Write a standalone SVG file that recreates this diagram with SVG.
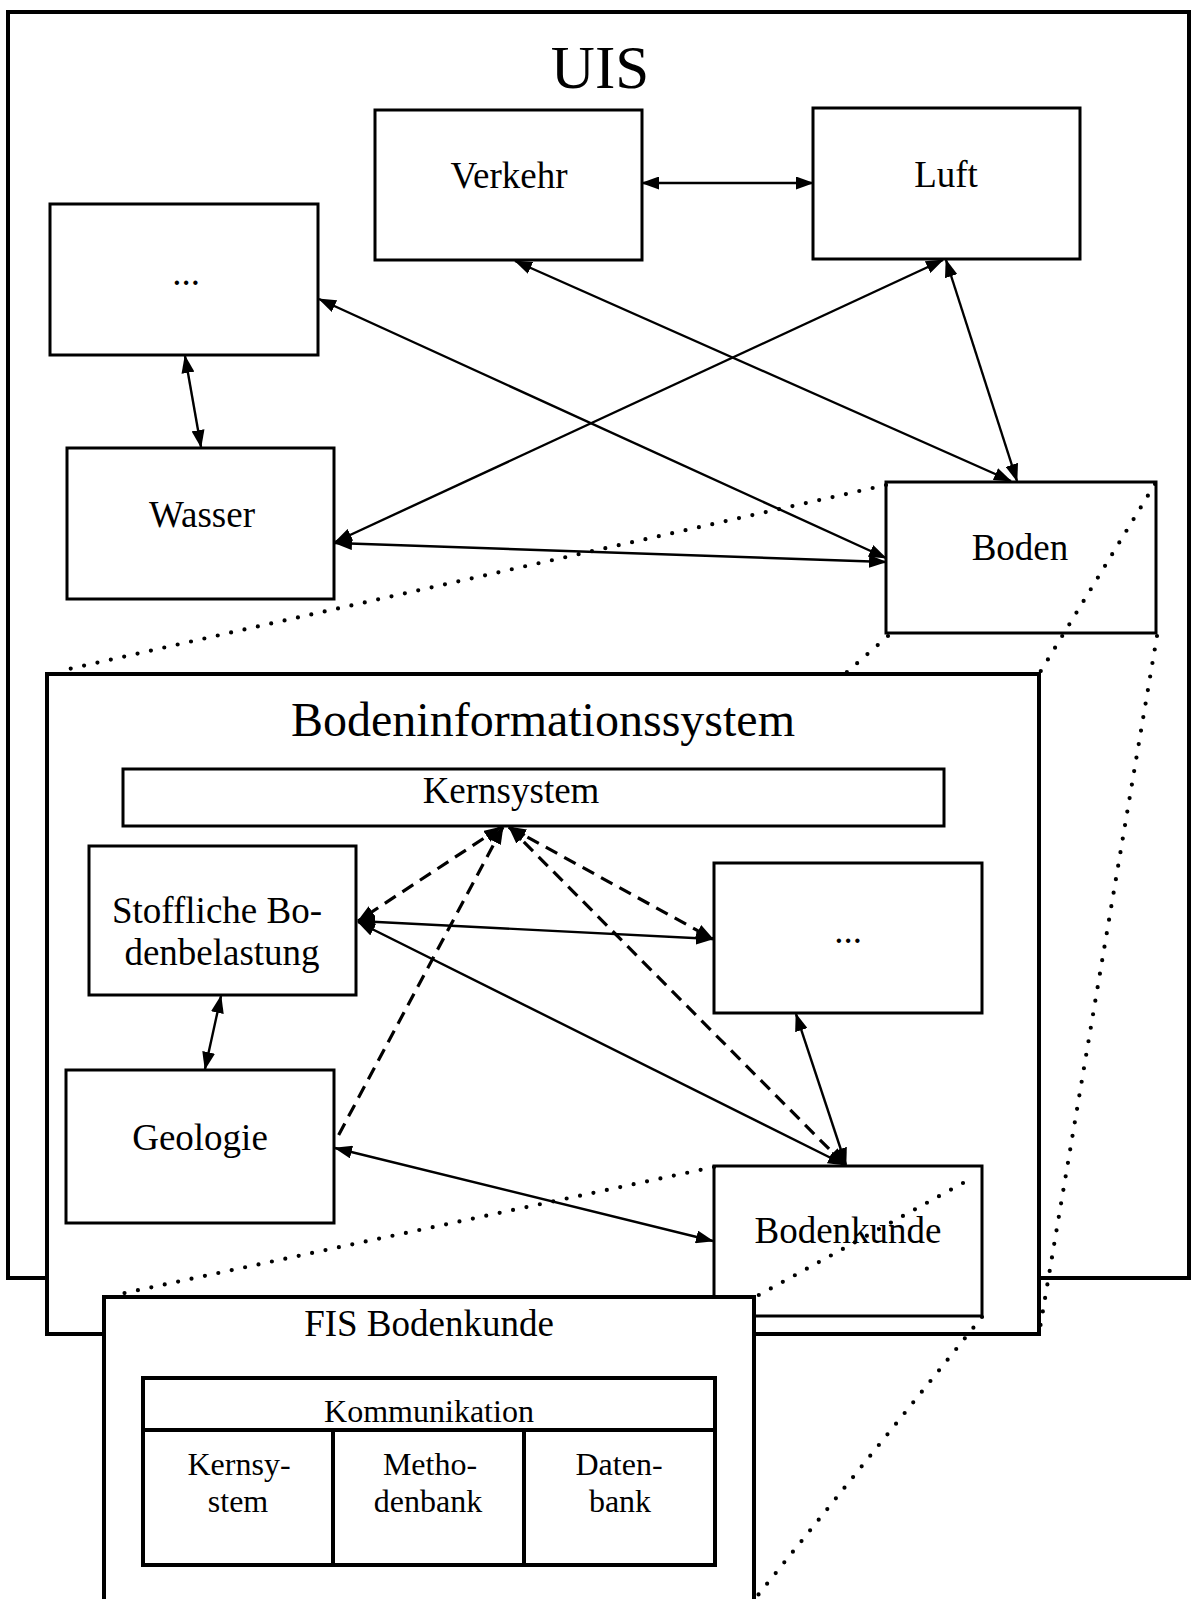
<svg xmlns="http://www.w3.org/2000/svg" width="1192" height="1599" viewBox="0 0 1192 1599">
<style>
.box{fill:#fff;stroke:#000;stroke-width:3}
.outer{fill:#fff;stroke:#000;stroke-width:4}
.t{font-family:"Liberation Serif","Times New Roman",serif;font-size:37px;fill:#000;text-anchor:middle}
.s{font-size:32px}
.c{stroke:#000;stroke-width:2.4;fill:none;marker-start:url(#ah);marker-end:url(#ah)}
.d{stroke:#000;stroke-width:3.2;fill:none;stroke-dasharray:13 8;marker-start:url(#ah);marker-end:url(#ah)}
.dot{stroke:#000;stroke-width:4.2;fill:none;stroke-linecap:round;stroke-dasharray:0 13.7}
</style>
<defs>
<marker id="ah" viewBox="0 0 18 13" refX="17" refY="6.5" markerWidth="18" markerHeight="13" markerUnits="userSpaceOnUse" orient="auto-start-reverse">
<path d="M0,0 L18,6.5 L0,13 z" fill="#000"/>
</marker>
</defs>
<rect width="1192" height="1599" fill="#fff"/>
<g id="uis">
<rect class="outer" x="8" y="12" width="1181" height="1266"/>
<text class="t" x="600" y="88" style="font-size:61px">UIS</text>
</g>
<g id="verkehr"><rect class="box" x="375" y="110" width="267" height="150"/><text class="t" x="509" y="188">Verkehr</text></g>
<g id="luft"><rect class="box" x="813" y="108" width="267" height="151"/><text class="t" x="946" y="187">Luft</text></g>
<g id="etc-uis"><rect class="box" x="50" y="204" width="268" height="151"/><text class="t" x="186" y="285">...</text></g>
<g id="wasser"><rect class="box" x="67" y="448" width="267" height="151"/><text class="t" x="202" y="527">Wasser</text></g>
<g id="boden"><rect class="box" x="886" y="482" width="270" height="151"/><text class="t" x="1020" y="560">Boden</text></g>
<g id="bis">
<rect class="outer" x="47" y="674" width="992" height="660"/>
<text class="t" x="543" y="736" style="font-size:48px">Bodeninformationssystem</text>
</g>
<g id="kernsystem"><rect class="box" x="123" y="769" width="821" height="57"/><text class="t" x="511" y="803">Kernsystem</text></g>
<g id="stoffliche"><rect class="box" x="89" y="846" width="267" height="149"/><text class="t" x="217" y="923">Stoffliche Bo-</text><text class="t" x="222" y="965">denbelastung</text></g>
<g id="etc-bis"><rect class="box" x="714" y="863" width="268" height="150"/><text class="t" x="848" y="943">...</text></g>
<g id="geologie"><rect class="box" x="66" y="1070" width="268" height="153"/><text class="t" x="200" y="1150">Geologie</text></g>
<g id="bodenkunde"><rect class="box" x="714" y="1166" width="268" height="150"/><text class="t" x="848" y="1243">Bodenkunde</text></g>
<g id="fis">
<rect class="outer" x="104" y="1297" width="650" height="320"/>
<text class="t" x="429" y="1336">FIS Bodenkunde</text>
</g>
<g id="fis-table">
<rect x="143" y="1378" width="572" height="187" fill="#fff" stroke="#000" stroke-width="4"/>
<line x1="143" y1="1430" x2="715" y2="1430" stroke="#000" stroke-width="4"/>
<line x1="333" y1="1430" x2="333" y2="1565" stroke="#000" stroke-width="4"/>
<line x1="524" y1="1430" x2="524" y2="1565" stroke="#000" stroke-width="4"/>
<text class="t s" x="429" y="1422">Kommunikation</text>
<text class="t s" x="239" y="1475">Kernsy-</text>
<text class="t s" x="238" y="1512">stem</text>
<text class="t s" x="430" y="1475">Metho-</text>
<text class="t s" x="428" y="1512">denbank</text>
<text class="t s" x="619" y="1475">Daten-</text>
<text class="t s" x="620" y="1512">bank</text>
</g>
<g id="connectors">
<line class="c" x1="642" y1="183" x2="813" y2="183"/>
<line class="c" x1="515" y1="261" x2="1011" y2="481"/>
<line class="c" x1="943" y1="260" x2="335" y2="542"/>
<line class="c" x1="946" y1="260" x2="1017" y2="481"/>
<line class="c" x1="319" y1="299" x2="886" y2="558"/>
<line class="c" x1="335" y1="543" x2="886" y2="562"/>
<line class="c" x1="185" y1="356" x2="201" y2="447"/>
<line class="c" x1="358" y1="921" x2="713" y2="939"/>
<line class="c" x1="358" y1="922" x2="845" y2="1165"/>
<line class="c" x1="796" y1="1014" x2="846" y2="1165"/>
<line class="c" x1="335" y1="1148" x2="713" y2="1241"/>
<line class="c" x1="221" y1="996" x2="205" y2="1069"/>
<line class="d" x1="501" y1="827" x2="358" y2="921"/>
<line class="d" x1="503" y1="827" x2="337" y2="1138" style="marker-end:none"/>
<line class="d" x1="509" y1="827" x2="713" y2="939"/>
<line class="d" x1="509" y1="827" x2="845" y2="1165"/>
<line class="dot" x1="886" y1="485" x2="60" y2="671"/>
<line class="dot" x1="888" y1="636" x2="846" y2="673"/>
<line class="dot" x1="1155" y1="484" x2="1039" y2="674"/>
<line class="dot" x1="1157" y1="636" x2="1039" y2="1334"/>
<line class="dot" x1="714" y1="1167" x2="120" y2="1294"/>
<line class="dot" x1="963" y1="1183" x2="757" y2="1296"/>
<line class="dot" x1="982" y1="1317" x2="754" y2="1600"/>
</g>
</svg>
